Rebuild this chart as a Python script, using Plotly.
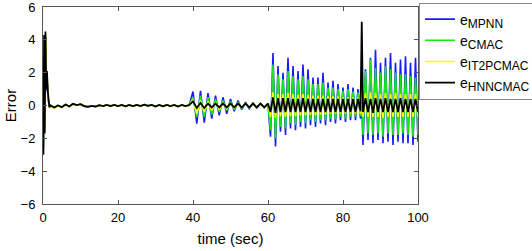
import plotly.graph_objects as go

# ---- data ----
# Segment A: start-up transient
tA = [0, 0.1, 0.3, 0.45, 0.65, 0.85, 1.05, 1.3, 1.7, 2.0]
blueA = [0, -2.6, 4.0, -1.3, 4.2, 0.9, 1.8, 0.5, -0.1, 0.0]
greenA = [0, -2.7, 4.1, -1.4, 4.3, 1.0, 1.9, 0.6, -0.1, 0.0]
yellowA = [0, -2.8, 4.2, -1.5, 4.4, 1.1, 2.0, 0.7, -0.15, -0.05]
blackA = [0, -3.0, 4.3, -1.7, 4.5, 1.0, 2.1, 0.8, -0.1, 0.0]

# Segment B: small ripple 3..39 s (all curves coincide)
tB = [3, 4, 5, 6, 7, 8, 9, 10, 11, 12, 13, 14, 15, 16, 17, 18, 19, 20, 21,
      22, 23, 24, 25, 26, 27, 28, 29, 30, 31, 32, 33, 34, 35, 36, 37, 38, 39]
rippleB = [-0.12, 0.0, -0.1, 0.06, -0.06, 0.1, 0.02, 0.08, -0.04, -0.08, -0.02,
           -0.07, 0.02, -0.04, 0.04, -0.03, 0.04, -0.04, 0.03, -0.05, 0.03, -0.04,
           0.04, -0.03, 0.05, -0.02, 0.04, -0.06, 0.03, -0.05, 0.04, -0.04, 0.03,
           -0.06, 0.03, -0.04, 0.03]
yellowB = [-0.18, 0.0, -0.12, 0.06, -0.08, 0.1, 0.02, 0.08, -0.05, -0.09, -0.03,
           -0.08, 0.02, -0.05, 0.04, -0.04, 0.04, -0.05, 0.03, -0.06, 0.03, -0.05,
           0.04, -0.04, 0.05, -0.03, 0.04, -0.07, 0.03, -0.06, 0.04, -0.05, 0.03,
           -0.07, 0.03, -0.05, 0.03]

# Segment C: 40..60 s
tC = [40, 41, 42, 43, 44, 45, 46, 47, 48, 49, 50, 51, 52, 53, 54, 55, 56, 57, 58, 59, 60]
blueC = [0.85, -1.1, 0.9, -1.05, 0.75, -0.8, 0.6, -0.6, 0.5, -0.5, 0.4, -0.35,
         0.3, -0.25, 0.2, -0.2, 0.15, -0.15, 0.12, -0.12, 0.1]
greenC = [0.5, -0.7, 0.6, -0.7, 0.5, -0.55, 0.4, -0.4, 0.3, -0.3, 0.25, -0.25,
          0.2, -0.2, 0.15, -0.15, 0.12, -0.12, 0.1, -0.1, 0.1]
yellowC = [0.35, -0.5, 0.3, -0.4, 0.25, -0.3, 0.2, -0.25, 0.15, -0.2, 0.12, -0.15,
           0.12, -0.12, 0.12, -0.12, 0.12, -0.12, 0.12, -0.12, 0.12]
blackC = [0.25, -0.15, 0.15, -0.15, 0.12, -0.12, 0.12, -0.12, 0.12, -0.12, 0.12,
          -0.12, 0.12, -0.12, 0.12, -0.12, 0.12, -0.12, 0.12, -0.12, 0.12]

# Segment D: 60..85 s
tD = [60.67, 61.33, 62.0, 62.67, 63.33, 64.0, 64.67, 65.33, 66.0, 66.67, 67.33,
      68.0, 68.67, 69.33, 70.0, 70.67, 71.33, 72.0, 72.67, 73.33, 74.0, 74.67,
      75.33, 76.0, 76.67, 77.33, 78.0, 78.67, 79.33, 80.0, 80.67, 81.33, 82.0,
      82.67, 83.33, 84.0, 84.67]
blueD = [-1.9, 3.2, -2.5, 2.4, -1.6, 2.0, -1.8, 2.9, -1.4, 2.4, -1.5, 2.1, -1.3,
         2.5, -1.4, 2.2, -1.2, 1.7, -1.3, 1.7, -1.1, 2.0, -1.2, 1.4, -1.0, 1.5,
         -1.1, 1.3, -0.9, 1.1, -1.0, 1.3, -0.9, 1.1, -0.9, 1.0, -0.8]
greenD = [-1.5, 2.5, -2.0, 1.9, -1.3, 1.6, -1.4, 2.1, -1.1, 1.8, -1.2, 1.6, -1.0,
          1.8, -1.1, 1.6, -0.9, 1.3, -1.0, 1.3, -0.9, 1.4, -0.9, 1.1, -0.8, 1.1,
          -0.85, 1.0, -0.7, 0.9, -0.8, 1.0, -0.7, 0.85, -0.7, 0.8, -0.65]
yellowD = [-0.7, 0.8, -0.75, 0.7, -0.65, 0.7, -0.7, 0.75, -0.65, 0.7, -0.65, 0.65,
           -0.6, 0.7, -0.6, 0.65, -0.55, 0.6, -0.6, 0.6, -0.55, 0.6, -0.55, 0.55,
           -0.5, 0.55, -0.5, 0.55, -0.5, 0.5, -0.5, 0.5, -0.5, 0.5, -0.5, 0.5, -0.5]
blackD = [-0.4, 0.5, -0.45, 0.45, -0.4, 0.45, -0.4, 0.45, -0.4, 0.4, -0.4, 0.4,
          -0.4, 0.45, -0.4, 0.4, -0.4, 0.4, -0.4, 0.4, -0.4, 0.4, -0.4, 0.4, -0.4,
          0.4, -0.4, 0.4, -0.4, 0.4, -0.4, 0.4, -0.4, 0.4, -0.4, 0.4, -0.35]

# Segment E: 85..100 s (black spike at 85 s)
tE = [85.0, 85.33, 86.0, 86.67, 87.33, 88.0, 88.67, 89.33, 90.0, 90.67, 91.33,
      92.0, 92.67, 93.33, 94.0, 94.67, 95.33, 96.0, 96.67, 97.33, 98.0, 98.67,
      99.33, 100.0]
blueE = [0.3, -2.4, 2.2, -2.1, 2.9, -2.3, 3.4, -2.1, 2.6, -2.3, 2.9, -2.2, 3.2,
         -2.4, 2.6, -2.2, 2.8, -2.3, 3.0, -2.3, 2.6, -2.4, 2.9, -2.2]
greenE = [0.3, -1.8, 2.1, -1.7, 2.8, -1.8, 2.3, -1.7, 2.0, -1.9, 2.4, -1.7, 2.2,
          -1.8, 2.0, -1.8, 1.9, -1.7, 1.9, -1.8, 1.8, -1.9, 1.7, -1.8]
yellowE = [0.3, -0.7, 0.75, -0.7, 0.8, -0.7, 0.75, -0.7, 0.7, -0.75, 0.75, -0.7,
           0.7, -0.7, 0.75, -0.7, 0.7, -0.7, 0.7, -0.7, 0.7, -0.7, 0.7, -0.7]
blackE = [5.1, -0.4, 0.45, -0.4, 0.4, -0.45, 0.45, -0.4, 0.4, -0.4, 0.45, -0.4,
          0.4, -0.4, 0.4, -0.4, 0.45, -0.4, 0.4, -0.4, 0.4, -0.4, 0.4, -0.4]

subs = ["MPNN", "CMAC", "IT2PCMAC", "HNNCMAC"]
colors = ["#1a1aff", "#19e619", "#ffff00", "#000000"]
widths = [1.6, 1.6, 1.6, 1.8]

t_all = tA + tB + tC + tD + tE
series = [
    blueA + rippleB + blueC + blueD + blueE,
    greenA + rippleB + greenC + greenD + greenE,
    yellowA + yellowB + yellowC + yellowD + yellowE,
    blackA + rippleB + blackC + blackD + blackE,
]

fig = go.Figure()
for i, (sub, col, w, ys) in enumerate(zip(subs, colors, widths, series)):
    name = 'e<sub><span style="font-size:12px">' + sub + '</span></sub>'
    fig.add_trace(go.Scatter(x=t_all, y=ys, mode="lines", name=name,
                             legendgroup=str(i),
                             line=dict(color=col, width=w)))

FONT = "Liberation Sans, Arial"
axis_common = dict(showgrid=False, zeroline=False, showline=True, mirror="ticks",
                   linecolor="#555555", linewidth=1, ticks="inside", ticklen=4,
                   tickcolor="#555555", automargin=False,
                   ticklabeloverflow="allow",
                   tickfont=dict(family=FONT, size=13, color="#000000"))

fig.update_layout(
    width=532, height=251,
    margin=dict(l=43, r=114, t=7, b=47, autoexpand=False),
    paper_bgcolor="white", plot_bgcolor="white",
    xaxis=dict(range=[0, 100], tickvals=[0, 20, 40, 60, 80, 100],
               ticklabelstandoff=1,
               title=dict(text="time (sec)", standoff=9,
                          font=dict(family=FONT, size=15, color="#000000")),
               **axis_common),
    yaxis=dict(range=[-6, 6], tickvals=[-6, -4, -2, 0, 2, 4, 6],
               ticklabelstandoff=4,
               title=dict(text="Error", standoff=0,
                          font=dict(family=FONT, size=15, color="#000000")),
               **axis_common),
    legend=dict(xref="container", yref="container",
                x=0.7876, y=0.99, xanchor="left", yanchor="top",
                bgcolor="white", bordercolor="#888888", borderwidth=1,
                itemwidth=30, tracegroupgap=0, entrywidth=70,
                font=dict(family=FONT, size=14, color="#000000")),
    showlegend=True,
)

fig.write_html("out.html", config={"displayModeBar": False},
               post_script="document.body.style.margin='0';")
